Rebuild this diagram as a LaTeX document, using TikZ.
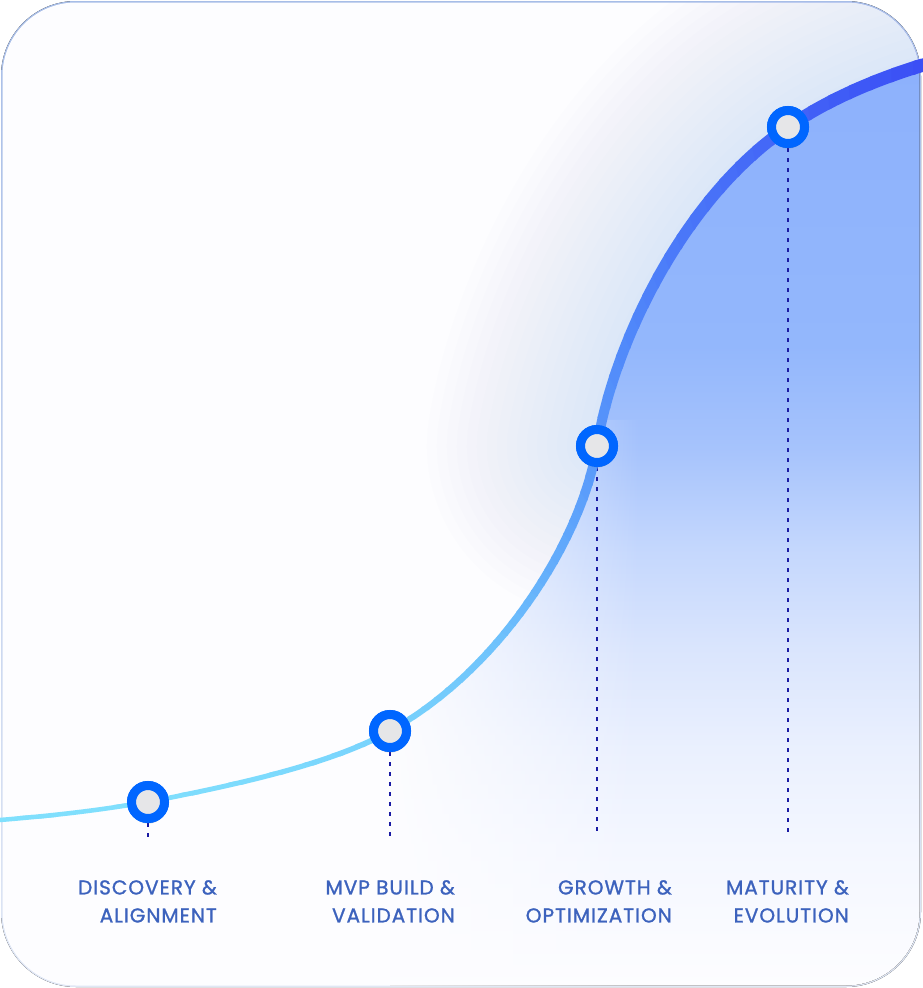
\documentclass[tikz,border=0pt]{standalone}
\usepackage{fontspec}
\usepackage{tikz}
\usetikzlibrary{shadows, fadings, positioning}

\newfontfamily\labfont{Poppins}[FakeBold=1.2, LetterSpace=5]

\definecolor{framehi}{HTML}{A7BDE7}
\definecolor{framelo}{HTML}{E0E7F5}
\definecolor{paper}{HTML}{FDFDFF}
\definecolor{curveA}{HTML}{80E0FD}
\definecolor{curveB}{HTML}{6FC3FC}
\definecolor{curveC}{HTML}{528CFA}
\definecolor{curveD}{HTML}{3A4DF5}
\definecolor{glowblue}{HTML}{9DB4F8}
\definecolor{markblue}{HTML}{0066FF}
\definecolor{markgray}{HTML}{E6E6E8}
\definecolor{guidenavy}{HTML}{1A1AA3}
\definecolor{labelblue}{HTML}{3C62BD}
\definecolor{areaB}{HTML}{F4F7FF}
\definecolor{areaC}{HTML}{EAF0FE}
\definecolor{areaD}{HTML}{DAE5FD}
\definecolor{areaE}{HTML}{C4D7FD}
\definecolor{areaF}{HTML}{A6C3FC}
\definecolor{areaG}{HTML}{93B7FC}
\definecolor{areaH}{HTML}{8DB1FC}

\pgfdeclareverticalshading{areashade}{100bp}{%
  color(0bp)=(paper); color(25bp)=(paper); color(32.5bp)=(areaB);
  color(37.9bp)=(areaC); color(43.3bp)=(areaD); color(48.7bp)=(areaE);
  color(54.1bp)=(areaF); color(59.6bp)=(areaG); color(75bp)=(areaH);
  color(100bp)=(areaH)}
\tikzfading[name=whiteout, left color=transparent!0, right color=transparent!100]

% the growth curve, in three parts
\def\lowpart{(0,820) .. controls (60,815) and (100,810) .. (148,802)
  .. controls (230,786) and (330,765) .. (390,731)}
\def\midpart{.. controls (500,670) and (582,540) .. (597,446)}
\def\toppart{.. controls (612,350) and (680,200) .. (788,127)
  .. controls (830,98) and (880,78) .. (923,65)}

\begin{document}
\begin{tikzpicture}[x=1pt, y=-1pt,
    marker/.style={circle, draw=markblue, line width=9pt, fill=markgray,
      minimum size=33pt, inner sep=0pt,
      circular drop shadow={shadow xshift=0pt, shadow yshift=-3pt, opacity=0.3, shadow scale=1.12}},
    guide/.style={guidenavy, line width=2.2pt, dash pattern=on 4pt off 6pt},
    lab/.style={font=\labfont\fontsize{20}{28}\selectfont, text=labelblue,
      inner sep=0pt, align=right, anchor=north east}]
    \useasboundingbox (0,0) rectangle (923,988);

    % frame
    \fill[rounded corners=75pt, top color=framehi, bottom color=framelo] (1,1) rectangle (921,987);
    \fill[rounded corners=73.5pt, paper] (2.5,2.5) rectangle (919.5,985.5);

    \begin{scope}
        \clip[rounded corners=73.5pt] (2.5,2.5) rectangle (919.5,985.5);
        \foreach \w in {20,40,...,340}
            \draw[glowblue, line width=\w pt, opacity=0.017, line cap=round, line join=round]
                (597,446) \toppart;
        \begin{scope}
            \clip (390,731) \midpart \toppart -- (923,988) -- (390,988) -- cycle;
            \fill[shading=areashade] (380,60) rectangle (923,988);
            \fill[paper, path fading=whiteout] (385,420) rectangle (640,990);
        \end{scope}
    \end{scope}

    % markers and guides
    \node[marker] (m1) at (148,802) {};
    \node[marker] (m2) at (390,731) {};
    \node[marker] (m3) at (597,446) {};
    \node[marker] (m4) at (788,127) {};
    \coordinate (g1) at (148,840);
    \coordinate (g2) at (390,840);
    \coordinate (g3) at (597,832);
    \coordinate (g4) at (788,832);
    \foreach \i in {1,2,3,4}
        \draw[guide] (m\i.south) -- (g\i);

    % curve, coloured wedge by wedge around (900,900)
    \foreach \a in {184,185.5,...,275.5}{
        \pgfmathsetmacro\t{max(0,min(1,(\a-185)/87))}
        \pgfmathsetmacro\lw{4.5+9*\t}
        \ifdim\t pt<0.3pt
            \pgfmathsetmacro\p{\t/0.3*100}\colorlet{seg}{curveB!\p!curveA}
        \else\ifdim\t pt<0.65pt
            \pgfmathsetmacro\p{(\t-0.3)/0.35*100}\colorlet{seg}{curveC!\p!curveB}
        \else
            \pgfmathsetmacro\p{(\t-0.65)/0.35*100}\colorlet{seg}{curveD!\p!curveC}
        \fi\fi
        \begin{scope}
            \clip (900,900) -- +(\a-0.1:2000) -- +(\a+1.6:2000) -- cycle;
            \draw[seg, line width=\lw pt, line cap=round] \lowpart \midpart \toppart;
        \end{scope}
    }

    % redraw markers on top of the curve
    \foreach \i/\x/\y in {1/148/802, 2/390/731, 3/597/446, 4/788/127}
        \node[marker] at (\x,\y) {};

    % labels
    \node[lab] (l1) at (217,880) {DISCOVERY \&\\ALIGNMENT};
    \node[lab] (l2) at (455,880) {MVP BUILD \&\\VALIDATION};
    \node[lab] (l3) at (672,880) {GROWTH \&\\OPTIMIZATION};
    \node[lab] (l4) at (849,880) {MATURITY \&\\EVOLUTION};
\end{tikzpicture}
\end{document}
